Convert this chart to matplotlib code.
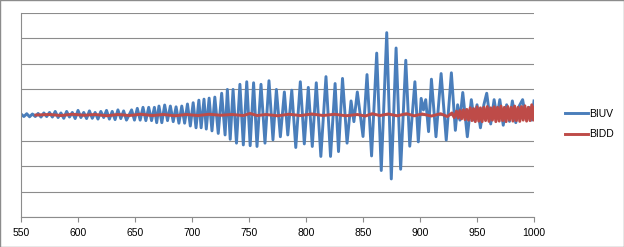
import matplotlib
matplotlib.use('Agg')
import matplotlib.pyplot as plt
from matplotlib.patches import Rectangle

plt.rcParams['font.family'] = ['Liberation Sans', 'DejaVu Sans']

# BIUV: peaks and troughs
biuv_x = [550, 552.5, 555, 557.5, 560, 562.5, 565, 567.5, 570, 572.5, 575, 577.5, 580, 582.5,
          585, 587.5, 590, 592.5, 595, 597.5, 600, 602.5, 605, 607.5, 610, 612.5, 615, 617.5,
          620, 622.5, 625, 627.5, 630, 632.5, 635, 637.5, 640, 642.5,
          647, 649.5, 652, 654.5, 657, 659.5, 662, 664.5, 667, 669, 671, 673.5, 676, 678.5,
          681, 683.5, 686, 688.5, 691, 693.5, 696, 698.5, 701, 703.5, 706, 708, 710.5, 712.5,
          715, 717.5, 720, 723, 726, 729, 731, 733.5, 736, 739, 742, 745, 748, 751, 754, 757,
          760.5, 764, 767.5, 771, 774, 777.5, 781, 784, 787.5, 791, 795, 798.5, 802, 805.5,
          809, 813, 817.5, 821.5, 825.5, 828.5, 832, 836, 839.5, 842, 845, 850, 853.5, 857.5,
          862, 866, 870.8, 874.8, 879, 883, 887.5, 891, 895.5, 898.5, 901, 903, 905, 907.5,
          910, 914, 918.5, 923, 927.5, 931, 933, 935, 937.5, 941.5, 945, 947.5, 950, 953,
          956, 958.5, 962, 965, 967.5, 970, 973, 976, 978.5, 981, 984, 987, 990, 993,
          995.5, 998, 1000]
biuv_y = [0.04, -0.06, 0.05, -0.07, 0.04, -0.06, 0.06, -0.08, 0.08, -0.06, 0.1, -0.08, 0.14, -0.1,
          0.08, -0.13, 0.14, -0.08, 0.1, -0.14, 0.18, -0.1, 0.1, -0.14, 0.16, -0.13, 0.1, -0.16,
          0.14, -0.1, 0.18, -0.16, 0.14, -0.18, 0.2, -0.14, 0.16, -0.2,
          0.2, -0.2, 0.26, -0.2, 0.3, -0.22, 0.3, -0.22, 0.3, -0.3, 0.35, -0.3, 0.39, -0.22,
          0.35, -0.26, 0.32, -0.32, 0.35, -0.32, 0.43, -0.43, 0.48, -0.5, 0.58, -0.5, 0.62, -0.55,
          0.66, -0.62, 0.7, -0.72, 0.85, -0.78, 1.0, -0.95, 1.0, -1.1, 1.2, -1.17, 1.3, -1.2, 1.26, -1.23,
          1.2, -1.1, 1.34, -0.97, 1.0, -0.85, 0.9, -0.78, 0.97, -1.27, 1.3, -1.13, 1.08, -1.23,
          1.26, -1.62, 1.5, -1.62, 1.23, -1.43, 1.43, -1.1, 0.55, -0.26, 0.9, -0.84, 1.58, -1.6,
          2.42, -2.17, 3.22, -2.5, 2.62, -2.12, 2.14, -1.22, 1.3, -1.05, 0.65, 0.2, 0.6, -0.65,
          1.4, -0.85, 1.62, -0.98, 1.65, -0.6, 0.4, -0.2, 0.88, -0.85, 0.6, -0.2, 0.4, -0.5,
          0.4, 0.85, -0.35, 0.6, -0.1, 0.6, -0.4, 0.4, -0.25, 0.55, -0.3, 0.35, 0.6, -0.15,
          0.3, -0.2, 0.55]

# BIDD
bidd_x = [563, 575, 585, 595, 605, 615, 625, 635, 645, 655, 665, 675, 685, 695, 705, 715, 725,
          735, 745, 751, 757, 765, 775, 785, 795, 805, 815, 825, 835, 845, 852, 858, 865, 872,
          880, 888, 895, 902, 910, 918, 924, 928, 930,
          932, 933.5, 935, 936.5, 938, 939.5, 941, 942.5, 944, 945.5, 947, 948.5, 950, 951.5,
          953, 954.5, 956, 957.5, 959, 960.5, 962, 963.5, 965, 966.5, 968, 969.5, 971, 972.5,
          974, 975.5, 977, 978.5, 980, 981.5, 983, 984.5, 986, 987.5, 989, 990.5, 992, 993.5,
          995, 996.5, 998, 999.5, 1000]
bidd_y = [0.0, 0.02, -0.02, 0.03, -0.01, 0.02, -0.03, 0.02, -0.02, 0.03, -0.02, 0.02, -0.03, 0.02,
          -0.02, 0.03, -0.01, 0.02, -0.02, 0.06, -0.02, 0.02, -0.03, 0.03, -0.02, 0.04, -0.02, 0.03,
          -0.03, 0.02, -0.04, 0.05, -0.02, 0.04, -0.03, 0.05, -0.03, 0.04, -0.04, 0.05, -0.06, 0.08, -0.1,
          0.15, -0.12, 0.18, -0.15, 0.2, -0.18, 0.22, -0.2, 0.28, -0.22, 0.25, -0.26, 0.32, -0.24,
          0.28, -0.26, 0.3, -0.22, 0.33, -0.25, 0.28, -0.2, 0.32, -0.26, 0.3, -0.24, 0.35, -0.22,
          0.3, -0.26, 0.33, -0.2, 0.3, -0.24, 0.35, -0.22, 0.3, -0.25, 0.33, -0.2, 0.36, -0.24,
          0.3, -0.22, 0.4, -0.2, 0.3]

x_ticks = [550, 600, 650, 700, 750, 800, 850, 900, 950, 1000]

fig = plt.figure(figsize=(6.24, 2.47), dpi=100)
ax = fig.add_axes([0.0337, 0.1202, 0.8221, 0.8284])

ax.plot(biuv_x, biuv_y, color='#4a7ebb', lw=2.1, label='BIUV', solid_joinstyle='round')
ax.plot(bidd_x, bidd_y, color='#be4b48', lw=2.1, label='BIDD', solid_joinstyle='round')

ax.set_xlim(550, 1000)
ax.set_ylim(-4, 4)
ax.set_xticks(x_ticks)
ax.set_yticks([-4, -3, -2, -1, 0, 1, 2, 3, 4])
ax.set_yticklabels([])
ax.tick_params(axis='y', length=0)
ax.tick_params(axis='x', length=3.5, width=0.8, color='#8c8c8c', labelsize=7.5, pad=4.5)
ax.grid(axis='y', color='#8c8c8c', lw=0.8)
ax.set_axisbelow(True)
for side in ['top', 'right']:
    ax.spines[side].set_visible(False)
ax.spines['left'].set_color('#8c8c8c')
ax.spines['bottom'].set_color('#8c8c8c')

fig.legend(loc='center left', bbox_to_anchor=(0.8905, 0.498), frameon=False, fontsize=7.5,
           handlelength=2.2, handletextpad=0.15, labelspacing=1.05)

fig.patches.append(Rectangle((0.0008, 0.002), 0.9984, 0.996, transform=fig.transFigure,
                             fill=False, edgecolor='#8c8c8c', lw=1))

fig.savefig('out.png', dpi=100)
